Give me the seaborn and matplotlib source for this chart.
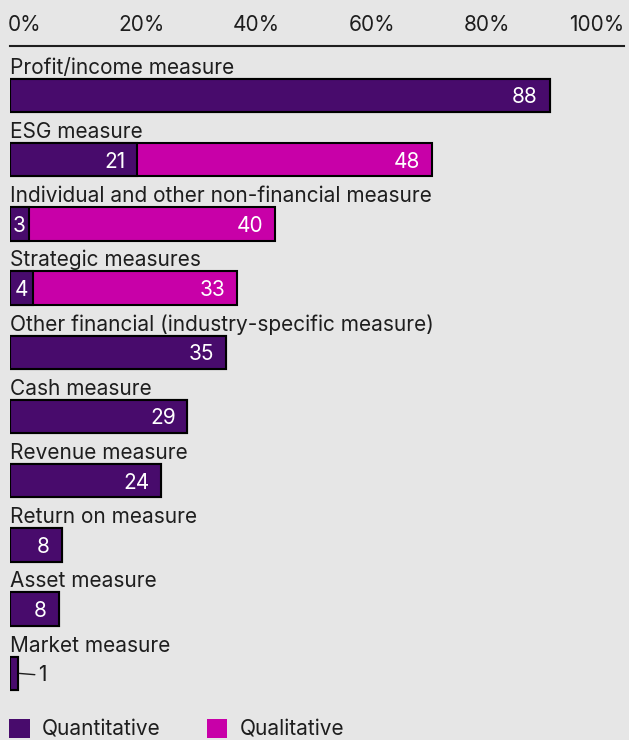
import matplotlib
matplotlib.use("Agg")
import matplotlib.pyplot as plt
import seaborn as sns
import pandas as pd
from matplotlib.patches import Patch

# ---------------- data ----------------
categories = [
    "Profit/income measure",
    "ESG measure",
    "Individual and other non-financial measure",
    "Strategic measures",
    "Other financial (industry-specific measure)",
    "Cash measure",
    "Revenue measure",
    "Return on measure",
    "Asset measure",
    "Market measure",
]
quantitative = [87.9, 20.7, 3.1, 3.7, 35.1, 28.9, 24.6, 8.4, 7.9, 1.3]
qualitative = [0.0, 48.0, 40.1, 33.3, 0.0, 0.0, 0.0, 0.0, 0.0, 0.0]
quant_labels = ["88", "21", "3", "4", "35", "29", "24", "8", "8", "1"]
qual_labels = ["", "48", "40", "33", "", "", "", "", "", ""]
tick_labels = ["0%", "20%", "40%", "60%", "80%", "100%"]
series_names = ["Quantitative", "Qualitative"]

# ---------------- style ----------------
PURPLE = "#480b6c"
MAGENTA = "#c800a8"
BG = "#e6e6e6"
INK = "#1e1e1e"
FS = 15

sns.set_theme(style="white")
plt.rcParams["font.family"] = ["Inter", "DejaVu Sans"]

df = pd.DataFrame({"category": categories,
                   "quant": quantitative,
                   "qual": qualitative})
df["total"] = df["quant"] + df["qual"]

W, H = 629, 740
fig = plt.figure(figsize=(W / 100, H / 100), dpi=100, facecolor=BG)
ax_top_px, ax_bot_px = 46, 700
ax = fig.add_axes([10 / W, (H - ax_bot_px) / H, 614 / W, (ax_bot_px - ax_top_px) / H])
ax.set_facecolor(BG)

bar_w = 0.52
sns.barplot(data=df, y="category", x="total", color=MAGENTA, orient="h",
            width=bar_w, edgecolor="black", linewidth=1.5, saturation=1,
            errorbar=None, ax=ax)
sns.barplot(data=df, y="category", x="quant", color=PURPLE, orient="h",
            width=bar_w, edgecolor="black", linewidth=1.5, saturation=1,
            errorbar=None, ax=ax)

pitch = 64.2
row0 = 95.5
ax.set_ylim((ax_bot_px - row0) / pitch, (ax_top_px - row0) / pitch)
ax.set_xlim(0, 100)
ax.set_xticks([])
ax.set_yticks([])
ax.set_xlabel("")
ax.set_ylabel("")
for s in ["left", "right", "bottom"]:
    ax.spines[s].set_visible(False)
ax.spines["top"].set_color(INK)
ax.spines["top"].set_linewidth(1.5)

# top percentage labels (spread across the width)
tick_pos = [0.024, 0.214, 0.401, 0.589, 0.777, 0.955]
for p, t in zip(tick_pos, tick_labels):
    ax.text(p, 1 + 21 / (ax_bot_px - ax_top_px), t, transform=ax.transAxes,
            ha="center", va="center", fontsize=FS, color=INK)

# category labels above bars
for i, cat in enumerate(categories):
    ax.text(0, i - bar_w / 2 - 5 / pitch, cat, ha="left", va="baseline",
            fontsize=FS, color=INK)

# value labels
pad_pt = 8.5
for i, (q, ql, lq, lql) in enumerate(zip(quantitative, qualitative,
                                         quant_labels, qual_labels)):
    if q >= 6:
        ax.annotate(lq, xy=(q, i), xytext=(-pad_pt, 0), textcoords="offset points",
                    ha="right", va="center_baseline", color="white", fontsize=FS)
    elif q >= 2:
        ax.annotate(lq, xy=(q / 2, i), ha="center", va="center_baseline",
                    color="white", fontsize=FS)
    else:
        ax.annotate(lq, xy=(q, i), xytext=(14.5, 0), textcoords="offset points",
                    ha="left", va="center_baseline", color=INK, fontsize=FS,
                    arrowprops=dict(arrowstyle="-", color=INK, lw=1.0,
                                    shrinkA=0, shrinkB=1))
    if ql > 0:
        ax.annotate(lql, xy=(q + ql, i), xytext=(-pad_pt, 0), textcoords="offset points",
                    ha="right", va="center_baseline", color="white", fontsize=FS)

# legend
handles = [Patch(facecolor=PURPLE, edgecolor="none"),
           Patch(facecolor=MAGENTA, edgecolor="none")]
leg = fig.legend(handles=handles, labels=series_names, loc="lower left",
                 bbox_to_anchor=(9 / W, 0.5 / H), ncol=2, frameon=False,
                 fontsize=FS, handlelength=1.0, handleheight=1.0,
                 handletextpad=0.58, columnspacing=2.2, borderpad=0,
                 borderaxespad=0)
for t in leg.get_texts():
    t.set_color(INK)

fig.savefig("out.png", dpi=100, facecolor=BG)
